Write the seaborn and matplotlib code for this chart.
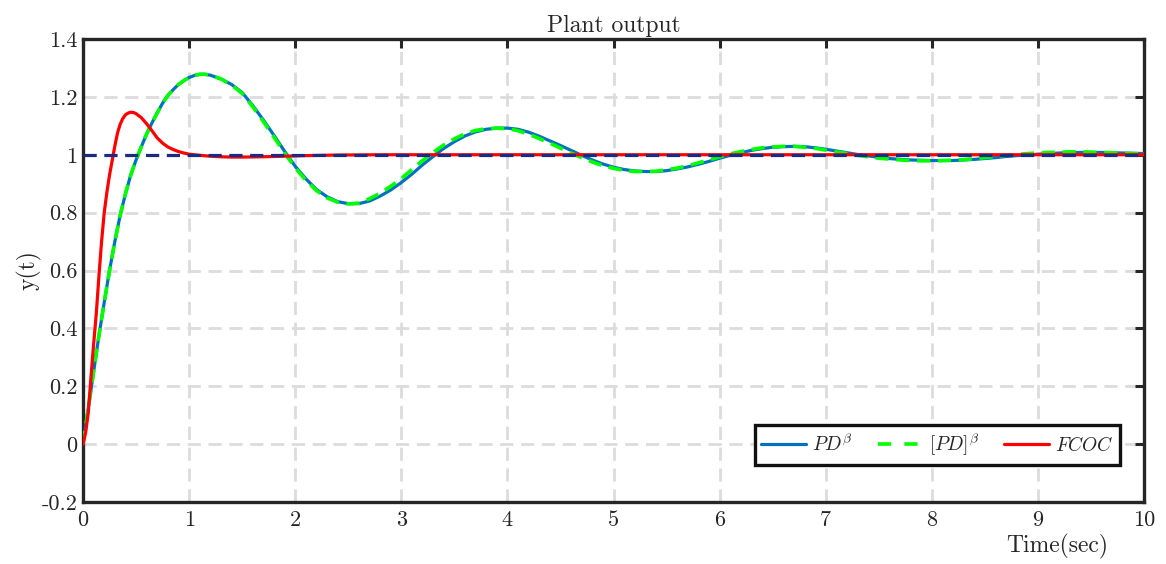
import numpy as np
import pandas as pd
import matplotlib
matplotlib.use("Agg")
import matplotlib.pyplot as plt
import seaborn as sns
from matplotlib.lines import Line2D

# ---------------- data ----------------
t_pd = [0.00, 0.05, 0.10, 0.15, 0.20, 0.25, 0.30, 0.35, 0.40, 0.45, 0.50,
        0.55, 0.60, 0.65, 0.70, 0.75, 0.80, 0.85, 0.90, 0.95, 1.00,
        1.05, 1.10, 1.15, 1.20, 1.30, 1.40, 1.50, 1.60, 1.70, 1.80, 1.90,
        2.00, 2.10, 2.20, 2.30, 2.40, 2.50, 2.60, 2.70, 2.80, 2.90,
        3.00, 3.10, 3.20, 3.30, 3.40, 3.50, 3.60, 3.70, 3.80, 3.90,
        4.00, 4.10, 4.20, 4.30, 4.40, 4.50, 4.60, 4.70, 4.80, 4.90,
        5.00, 5.10, 5.20, 5.30, 5.40, 5.50, 5.60, 5.70, 5.80, 5.90,
        6.00, 6.10, 6.20, 6.30, 6.40, 6.50, 6.60, 6.70, 6.80, 6.90,
        7.00, 7.10, 7.20, 7.30, 7.40, 7.50, 7.60, 7.70, 7.80, 7.90,
        8.00, 8.10, 8.20, 8.30, 8.40, 8.50, 8.60, 8.70, 8.80, 8.90,
        9.00, 9.10, 9.20, 9.30, 9.40, 9.50, 9.60, 9.70, 9.80, 9.90, 10.0]

y_pd = [0.000, 0.125, 0.250, 0.375, 0.490, 0.600, 0.700, 0.790, 0.865, 0.930, 0.982,
        1.028, 1.072, 1.110, 1.145, 1.178, 1.205, 1.225, 1.243, 1.256, 1.267,
        1.274, 1.278, 1.278, 1.275, 1.262, 1.243, 1.215, 1.170, 1.120, 1.067, 1.012,
        0.960, 0.917, 0.880, 0.855, 0.838, 0.831, 0.831, 0.840, 0.857, 0.878,
        0.904, 0.933, 0.965, 0.994, 1.022, 1.045, 1.065, 1.079, 1.088, 1.092,
        1.092, 1.088, 1.078, 1.064, 1.048, 1.032, 1.015, 0.998, 0.982, 0.968,
        0.957, 0.949, 0.944, 0.942, 0.942, 0.945, 0.951, 0.958, 0.967, 0.977,
        0.988, 0.998, 1.007, 1.015, 1.021, 1.026, 1.028, 1.029, 1.028, 1.024,
        1.019, 1.013, 1.007, 1.001, 0.996, 0.991, 0.987, 0.984, 0.982, 0.981,
        0.980, 0.980, 0.980, 0.982, 0.984, 0.987, 0.990, 0.994, 0.997, 0.999,
        1.002, 1.004, 1.006, 1.007, 1.008, 1.008, 1.008, 1.007, 1.006, 1.005, 1.004]

y_pdb = [0.000, 0.125, 0.250, 0.375, 0.490, 0.600, 0.700, 0.790, 0.865, 0.930, 0.982,
         1.028, 1.072, 1.110, 1.145, 1.178, 1.205, 1.225, 1.243, 1.256, 1.267,
         1.274, 1.278, 1.278, 1.275, 1.262, 1.241, 1.212, 1.166, 1.115, 1.061, 1.006,
         0.955, 0.912, 0.876, 0.851, 0.836, 0.830, 0.833, 0.848, 0.867, 0.891,
         0.918, 0.949, 0.980, 1.008, 1.034, 1.055, 1.072, 1.084, 1.090, 1.092,
         1.090, 1.083, 1.071, 1.056, 1.040, 1.023, 1.006, 0.990, 0.975, 0.962,
         0.953, 0.946, 0.942, 0.942, 0.943, 0.948, 0.954, 0.962, 0.972, 0.982,
         0.993, 1.003, 1.011, 1.018, 1.024, 1.027, 1.029, 1.029, 1.026, 1.022,
         1.016, 1.010, 1.004, 0.998, 0.993, 0.988, 0.985, 0.982, 0.980, 0.979,
         0.979, 0.980, 0.981, 0.983, 0.986, 0.990, 0.994, 0.998, 1.001, 1.004,
         1.006, 1.008, 1.009, 1.010, 1.010, 1.009, 1.008, 1.007, 1.005, 1.004, 1.003]

t_fcoc = [0.000, 0.025, 0.050, 0.075, 0.100, 0.125, 0.150, 0.175, 0.200, 0.225,
          0.250, 0.275, 0.300, 0.325, 0.350, 0.375, 0.400, 0.425, 0.450, 0.475,
          0.500, 0.550, 0.600, 0.650, 0.700, 0.750, 0.800, 0.850, 0.900, 0.950,
          1.00, 1.10, 1.20, 1.30, 1.40, 1.50, 1.70, 1.90, 2.10, 2.40, 2.80,
          3.0, 4.0, 5.0, 6.0, 7.0, 8.0, 9.0, 10.0]
y_fcoc = [0.000, 0.040, 0.110, 0.230, 0.345, 0.450, 0.580, 0.700, 0.800, 0.870,
          0.930, 0.980, 1.030, 1.075, 1.105, 1.125, 1.138, 1.144, 1.147, 1.146,
          1.142, 1.128, 1.107, 1.083, 1.058, 1.040, 1.027, 1.018, 1.011, 1.006,
          1.002, 0.998, 0.995, 0.993, 0.992, 0.992, 0.993, 0.995, 0.997, 0.999, 1.000,
          1.000, 1.000, 1.000, 1.000, 1.000, 1.000, 1.000, 1.000]

t_ref = [0.0, 10.0]
y_ref = [1.0, 1.0]

x_ticks = [0, 1, 2, 3, 4, 5, 6, 7, 8, 9, 10]
x_ticklabels = ["0", "1", "2", "3", "4", "5", "6", "7", "8", "9", "10"]
y_ticks = [-0.2, 0.0, 0.2, 0.4, 0.6, 0.8, 1.0, 1.2, 1.4]
y_ticklabels = ["-0.2", "0", "0.2", "0.4", "0.6", "0.8", "1", "1.2", "1.4"]

legend_labels = [r"$PD^{\beta}$", r"$[PD]^{\beta}$", r"$FCOC$"]

# ---------------- style ----------------
sns.set_style("white")
plt.rcParams["font.family"] = ["cmr10", "DejaVu Serif"]
plt.rcParams["mathtext.fontset"] = "cm"
plt.rcParams["axes.unicode_minus"] = False
plt.rcParams["axes.formatter.use_mathtext"] = True
plt.rcParams["lines.scale_dashes"] = False

C_BLUE = "#0072BD"
C_GREEN = "#00FF00"
C_RED = "#FF0000"
C_NAVY = "#1B2A84"
C_AX = "#262626"

fig = plt.figure(figsize=(11.66, 5.64), dpi=100)
ax = fig.add_axes([83 / 1166, 1 - 502 / 564, (1144 - 83) / 1166, (502 - 39) / 564])

sns.lineplot(x=t_pd, y=y_pd, ax=ax, color=C_BLUE, lw=2.3, estimator=None,
             sort=False, zorder=3)
sns.lineplot(x=t_pd, y=y_pdb, ax=ax, color=C_GREEN, lw=2.6, estimator=None,
             sort=False, zorder=4)
ax.lines[-1].set_linestyle((0, (9.5, 5.5)))
sns.lineplot(x=t_fcoc, y=y_fcoc, ax=ax, color=C_RED, lw=2.3, estimator=None,
             sort=False, zorder=5)
sns.lineplot(x=t_ref, y=y_ref, ax=ax, color=C_NAVY, lw=2.3, estimator=None,
             sort=False, zorder=6)
ax.lines[-1].set_linestyle((0, (9.5, 5.5)))

ax.set_xlim(0, 10)
ax.set_ylim(-0.2, 1.4)
ax.set_xticks(x_ticks)
ax.set_xticklabels(x_ticklabels)
ax.set_yticks(y_ticks)
ax.set_yticklabels(y_ticklabels)

ax.grid(True, color="#dcdcdc", lw=2.0, linestyle=(0, (9.5, 5.5)))
ax.set_axisbelow(True)

for s in ax.spines.values():
    s.set_visible(True)
    s.set_color(C_AX)
    s.set_linewidth(2.4)

ax.tick_params(direction="in", length=6.5, width=2.2, color=C_AX,
               top=True, right=True, labelsize=16, labelcolor=C_AX)
ax.tick_params(axis="x", pad=6)
ax.tick_params(axis="y", pad=4)

ax.set_title("Plant output", fontsize=17, color=C_AX, pad=5)
ax.set_ylabel("y(t)", fontsize=17, color=C_AX)
ax.yaxis.set_label_coords(-0.039, 0.5)
ax.set_xlabel("Time(sec)", fontsize=17, color=C_AX)
ax.xaxis.set_label_coords(0.918, -0.068)

handles = [
    Line2D([], [], color=C_BLUE, lw=2.3),
    Line2D([], [], color=C_GREEN, lw=2.6, linestyle=(0, (9.5, 9.5))),
    Line2D([], [], color=C_RED, lw=2.3),
]
leg = ax.legend(handles, legend_labels, loc="lower right",
                bbox_to_anchor=(0.977, 0.08), ncol=3, fontsize=14,
                frameon=True, fancybox=False, framealpha=1.0,
                edgecolor="#111111", handlelength=2.3, handletextpad=0.3,
                columnspacing=1.3, borderpad=0.35, borderaxespad=0.0)
leg.get_frame().set_linewidth(2.4)

fig.savefig("out.png", dpi=100)
